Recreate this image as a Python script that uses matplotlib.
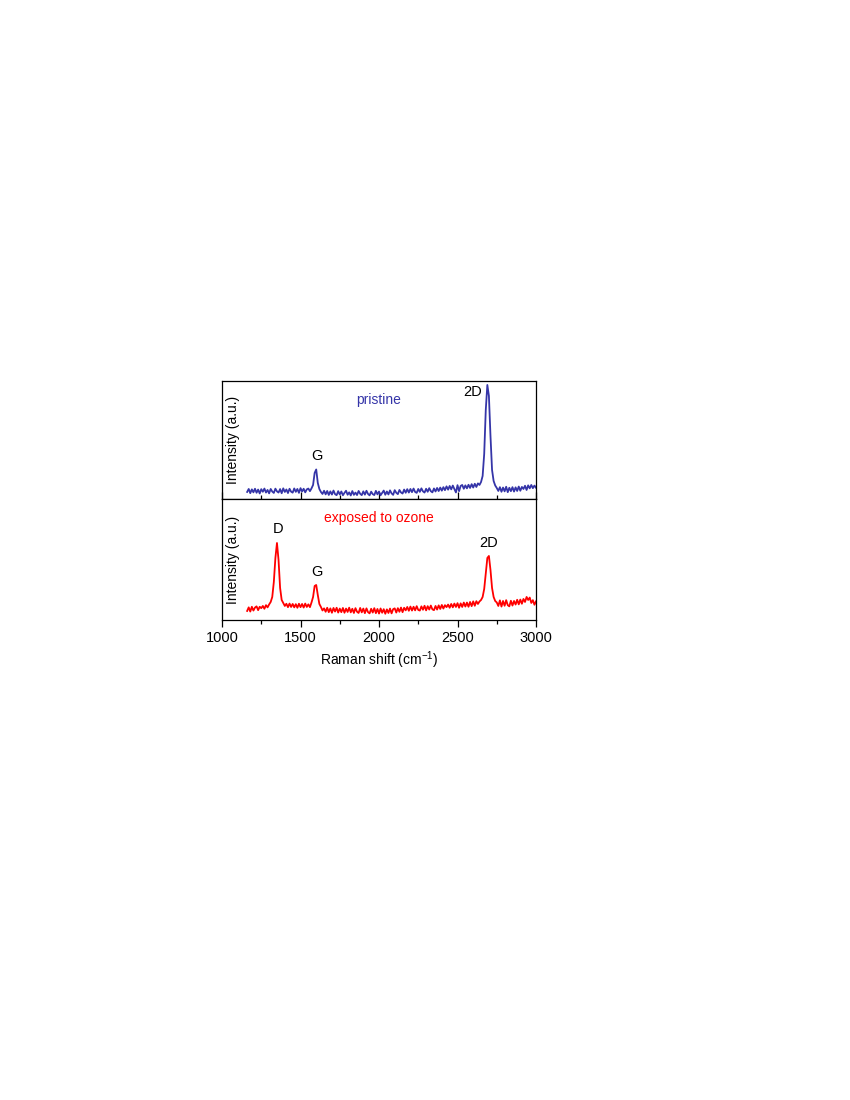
"""Raman spectra of graphene: pristine vs. exposed to ozone (two stacked panels)."""

import matplotlib
matplotlib.use("Agg")
import matplotlib.pyplot as plt
from matplotlib.ticker import MultipleLocator
import numpy as np

plt.rcParams["font.family"] = ["Liberation Sans", "DejaVu Sans"]
plt.rcParams["mathtext.fontset"] = "custom"
plt.rcParams["mathtext.rm"] = "Liberation Sans"
plt.rcParams["mathtext.it"] = "Liberation Sans:italic"

# sampling grid of the spectra (cm^-1), values read every 10 cm^-1
shift = np.arange(1160, 3001, 10)

# pristine graphene, intensity (a.u.)
pristine = [
    0.0, 3.0, -1.2, 2.6, -0.4, 3.2, -0.8, 2.4, -1.5, 2.8,
    0.2, 3.4, -0.6, 2.0, -1.4, 3.0, 0.4, -1.0, 3.3, 0.6,
    -0.6, 2.9, -1.3, 3.6, 0.0, 2.5, -1.1, 3.2, 0.3, -0.7,
    3.5, 0.1, 3.0, -0.9, 3.8, 0.5, 3.2, -0.4, 2.6, 3.4,
    0.8, 3.6, 7.0, 19.0, 22.5, 9.0, 3.0, 0.0, -2.0, 1.2,
    -2.4, 1.0, -3.0, 0.6, -2.6, 1.4, -2.2, -3.2, 0.8, -2.5,
    0.5, -3.3, -0.9, 1.2, -2.8, -0.4, -3.5, 0.9, -2.9, -0.6,
    -3.1, 1.0, -1.8, -3.2, 0.6, -2.7, 1.2, -2.0, -3.4, 0.3,
    -2.2, -3.1, 1.1, -2.4, 0.4, -3.3, -0.9, 1.4, -2.8, 0.5,
    -2.5, 1.6, -1.4, -2.9, 1.8, -0.8, -2.2, 2.0, -0.5, -1.6,
    2.4, -0.8, 2.8, -0.6, 3.0, -0.2, 3.4, 0.0, -0.9, 3.0,
    0.1, 3.6, 0.6, -0.6, 3.2, 0.2, 3.8, 0.8, -0.4, 3.5,
    0.5, 4.0, 0.9, 4.4, 1.3, 4.8, 1.8, 5.6, 2.3, 6.0,
    2.6, 6.4, 3.0, -0.5, 6.8, 0.8, 6.0, 7.0, 3.2, 6.6,
    3.6, 7.2, 4.0, 7.8, 4.4, 8.2, 5.0, 8.6, 7.0, 10.0,
    16.0, 38.0, 82.0, 107.0, 96.0, 56.0, 22.0, 11.0, 6.5, 4.0,
    1.0, 4.8, 0.2, 4.4, 0.6, 5.2, -0.2, 4.2, 0.8, 4.8,
    0.4, 4.6, 1.0, 5.4, 1.2, 5.0, 3.0, 6.2, 2.0, 6.6,
    3.6, 7.0, 3.8, 6.4, 4.2,
]

# graphene exposed to ozone, intensity (a.u.)
ozone = [
    -1.0, 2.6, -1.6, 3.2, -0.6, 2.4, 3.6, -0.2, 3.2, 1.8,
    4.0, 1.2, 4.8, 2.6, 5.5, 8.0, 13.0, 28.0, 52.0, 67.0,
    50.0, 22.0, 10.0, 7.0, 4.0, 6.2, 2.8, 6.4, 3.0, 6.0,
    2.6, 5.8, 2.2, 6.2, 2.8, 6.0, 2.4, 6.4, 3.0, 5.6,
    2.8, 7.5, 13.0, 24.0, 25.0, 15.0, 6.0, 3.0, -0.5, 1.6,
    -1.8, 2.2, -2.2, 1.6, -2.8, 2.0, -1.6, 2.2, -2.6, 1.4,
    -2.2, 2.0, -2.8, 1.4, -2.0, 2.3, -2.4, 1.2, -3.0, 1.8,
    -1.8, -3.0, 2.0, -2.4, 1.4, -3.2, 1.6, -2.2, -3.4, 1.2,
    -2.6, 1.8, -3.2, 1.0, -3.6, 1.5, -2.8, 0.8, -3.8, 0.6,
    -3.0, 1.4, -3.4, 0.8, 1.6, -2.6, 1.8, -1.8, 2.4, -2.2,
    2.2, -0.4, 3.0, -0.8, 3.4, -0.6, 3.2, -0.4, 3.8, 0.0,
    -0.6, 3.6, 0.2, 4.2, -0.4, 3.8, 0.4, 4.4, 0.6, -0.2,
    4.0, 0.4, 4.6, 1.0, 5.0, 1.4, 4.8, 2.8, 5.4, 2.2,
    6.0, 2.6, 6.4, 3.0, 6.8, 2.2, 6.6, 3.0, 7.4, 3.4,
    7.4, 3.2, 8.0, 3.8, 8.6, 4.2, 8.8, 6.0, 8.5, 10.0,
    13.0, 21.0, 37.0, 52.0, 54.0, 40.0, 22.0, 13.0, 9.0, 7.5,
    4.0, 9.6, 3.4, 9.0, 4.2, 9.8, 4.8, 3.6, 9.2, 4.4,
    9.0, 5.4, 10.2, 5.6, 10.4, 6.2, 11.0, 8.0, 13.0, 10.0,
    12.4, 7.0, 9.8, 5.2, 8.6,
]

# peak labels: (text, shift, intensity)
pristine_peaks = [("G", 1603, 36), ("2D", 2594, 100)]
ozone_peaks = [("D", 1359, 81), ("G", 1603, 38), ("2D", 2701, 67)]

BLUE = "#3535a8"
RED = "#ff0000"

fig = plt.figure(figsize=(8.5, 11), dpi=100)
ax1 = fig.add_axes([0.2612, 0.5464, 0.3694, 0.1073])
ax2 = fig.add_axes([0.2612, 0.4364, 0.3694, 0.1100], sharex=ax1)

ax1.plot(shift, pristine, color=BLUE, lw=1.3)
ax2.plot(shift, ozone, color=RED, lw=1.3)

ax1.set_xlim(1000, 3000)
ax1.set_ylim(-7, 111)
ax2.set_ylim(-10, 111)

for ax in (ax1, ax2):
    ax.set_yticks([])
    ax.xaxis.set_major_locator(MultipleLocator(500))
    ax.xaxis.set_minor_locator(MultipleLocator(250))
    for sp in ax.spines.values():
        sp.set_linewidth(0.9)
    ax.text(0.035, 0.5, "Intensity (a.u.)", transform=ax.transAxes, rotation=90,
            ha="center", va="center", fontsize=10)

ax1.tick_params(axis="x", which="both", direction="in", labelbottom=False, width=0.9)
ax1.tick_params(axis="x", which="major", length=5)
ax1.tick_params(axis="x", which="minor", length=3)
ax2.tick_params(axis="x", which="both", direction="out", width=0.9, labelsize=10.5, pad=3)
ax2.tick_params(axis="x", which="major", length=5)
ax2.tick_params(axis="x", which="minor", length=3)

ax1.text(1995, 92, "pristine", color=BLUE, ha="center", va="center", fontsize=10)
ax2.text(2000, 92, "exposed to ozone", color=RED, ha="center", va="center", fontsize=10)
for name, x, y in pristine_peaks:
    ax1.text(x, y, name, ha="center", va="center", fontsize=10.5)
for name, x, y in ozone_peaks:
    ax2.text(x, y, name, ha="center", va="center", fontsize=10.5)

ax2.set_xlabel("Raman shift (cm$^{-1}$)", fontsize=10, labelpad=3)

fig.savefig("out.png", dpi=100)
